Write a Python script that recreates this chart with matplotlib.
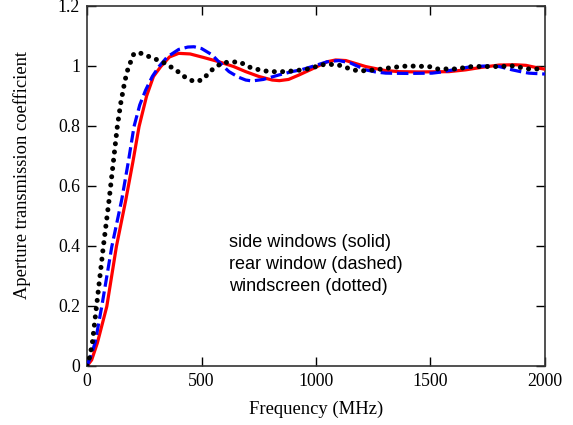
import numpy as np
import matplotlib.pyplot as plt

# side windows (solid, red)
side_f = [0, 20, 45, 86, 128, 169, 200, 227, 260, 290, 322, 360, 400, 450, 510,
          576, 640, 693, 750, 809, 840, 880, 926, 983, 1049, 1086, 1130, 1217,
          1300, 1362, 1450, 1581, 1654, 1720, 1800, 1870, 1917, 1960, 2000]
side_t = [0, 0.02, 0.077, 0.198, 0.398, 0.553, 0.68, 0.798, 0.9, 0.965, 0.998,
          1.03, 1.042, 1.04, 1.028, 1.014, 0.998, 0.981, 0.965, 0.953, 0.951,
          0.955, 0.97, 0.99, 1.014, 1.02, 1.018, 0.998, 0.985, 0.981, 0.98,
          0.981, 0.987, 0.995, 1.003, 1.004, 1.002, 0.995, 0.989]

# rear window (dashed, blue)
rear_f = [0, 15, 35, 64, 108, 151, 180, 205, 230, 256, 285, 314, 350, 400, 440,
          467, 500, 546, 580, 620, 660, 693, 721, 770, 838, 900, 935, 983, 1049,
          1100, 1150, 1217, 1260, 1305, 1400, 1507, 1551, 1620, 1681, 1750, 1800,
          1857, 1900, 1930, 2000]
rear_t = [0, 0.03, 0.077, 0.198, 0.398, 0.553, 0.68, 0.798, 0.87, 0.92, 0.965,
          0.998, 1.03, 1.055, 1.063, 1.064, 1.058, 1.037, 1.01, 0.981, 0.963,
          0.953, 0.95, 0.955, 0.97, 0.982, 0.987, 0.998, 1.014, 1.018, 1.01,
          0.987, 0.98, 0.976, 0.975, 0.976, 0.98, 0.99, 0.998, 1.0, 0.998, 0.987,
          0.98, 0.976, 0.973]

# windscreen (dotted, black)
wind_f = [0, 8, 16, 23, 41, 71, 96, 132, 147, 165, 179, 205, 236, 271, 328, 387,
          431, 467, 502, 546, 590, 664, 721, 795, 869, 939, 983, 1013, 1043, 1087,
          1114, 1152, 1188, 1261, 1333, 1400, 1494, 1530, 1610, 1681, 1800, 1857,
          1930, 1974, 2000]
wind_t = [0, 0.02, 0.048, 0.077, 0.198, 0.398, 0.553, 0.798, 0.876, 0.95, 0.992,
          1.042, 1.042, 1.031, 1.014, 0.987, 0.961, 0.948, 0.953, 0.987, 1.011,
          1.014, 0.992, 0.981, 0.981, 0.987, 0.992, 1.003, 1.005, 1.005, 1.0,
          0.989, 0.983, 0.987, 0.995, 1.0, 0.998, 0.99, 0.99, 0.998, 0.998, 1.0,
          0.99, 0.99, 0.99]

x_ticks = [0, 500, 1000, 1500, 2000]
y_ticks = [0, 0.2, 0.4, 0.6, 0.8, 1.0, 1.2]
y_labels = ["0", "0.2", "0.4", "0.6", "0.8", "1", "1.2"]
notes = ["side windows (solid)", "rear window (dashed)", "windscreen (dotted)"]

serif = ["Liberation Serif", "DejaVu Serif"]
sans = ["Liberation Sans", "DejaVu Sans"]

fig = plt.figure(figsize=(5.73, 4.25), dpi=100)
ax = fig.add_axes([0.152, 0.139, 0.799, 0.847])

ax.plot(side_f, side_t, color="#ff0000", lw=2.3, solid_capstyle="round", zorder=3)
ax.plot(rear_f, rear_t, color="#0000ff", lw=2.3, dashes=(3.6, 1.5), zorder=4)
ax.plot(wind_f, wind_t, color="black", lw=3.6, dashes=(0.01, 1.65),
        dash_capstyle="round", zorder=5)

ax.set_xlim(0, 2000)
ax.set_ylim(0, 1.2)
ax.set_xticks(x_ticks)
ax.set_xticklabels([str(v) for v in x_ticks], family=serif, fontsize=12.8)
ax.set_yticks(y_ticks)
ax.set_yticklabels(y_labels, family=serif, fontsize=12.8)
ax.tick_params(direction="in", length=6.5, width=1, top=True, right=True, pad=5)

for s in ax.spines.values():
    s.set_color("#333333")
    s.set_linewidth(1.2)

ax.set_xlabel("Frequency (MHz)", family=serif, fontsize=13.4, labelpad=8)
ax.set_ylabel("Aperture transmission coefficient", family=serif, fontsize=13.3)
ax.yaxis.set_label_coords(-0.122, 0.53)

# labels inside the plot
for i, txt in enumerate(notes):
    ax.text(0.31, 0.344 - i * 0.061, txt, transform=ax.transAxes, family=sans,
            fontsize=13, va="center", ha="left")

fig.savefig("out.png", dpi=100)
